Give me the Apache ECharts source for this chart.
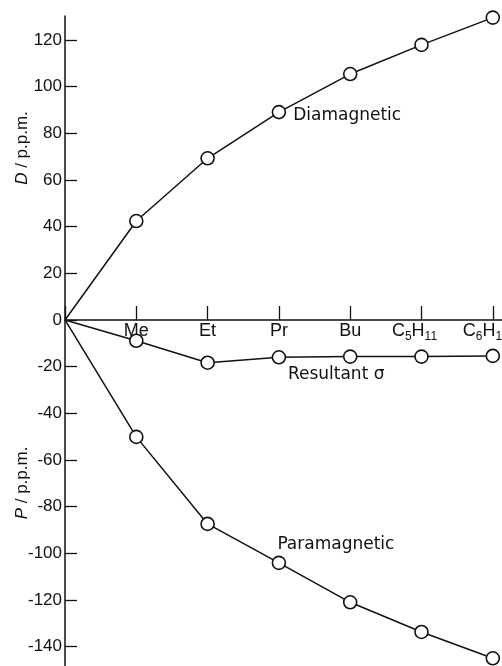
<!DOCTYPE html>
<html>
<head>
<meta charset="utf-8">
<script src="https://cdn.jsdelivr.net/npm/echarts@6/dist/echarts.min.js"></script>
<style>
  html, body { margin: 0; padding: 0; background: #fff; }
  #chart { width: 502px; height: 666px; }
</style>
</head>
<body>
<div id="chart"></div>
<script>
// x positions 0..6, 0 = origin, then the alkyl groups
const categories = ['Me', 'Et', 'Pr', 'Bu', 'C5H11', 'C6H13'];
const diamagnetic = [0, 42.4, 69.3, 89.1, 105.4, 117.9, 129.6];
const resultant = [0, -8.9, -18.3, -16, -15.7, -15.7, -15.4];
const paramagnetic = [0, -50.1, -87.4, -104.1, -121, -133.7, -145];
const yTicks = [-140, -120, -100, -80, -60, -40, -20, 0, 20, 40, 60, 80, 100, 120];
const yAxisExtent = [-149, 130.5];

const ink = '#111';
const tickFont = "'Liberation Sans Narrow', 'Liberation Sans', sans-serif";

const toPoints = arr => arr.map((v, i) => [i, v]);

// tick labels with subscripts, e.g. C5H11 (a bit left of the tick, like the original)
const catLabel = name => {
    const m = name.match(/^C(\d)H(\d+)$/);
    if (!m) return '{n|' + name + '}';
    return '{n|C}{s|' + m[1] + '}{n|H}{s|' + m[2] + '}{pad|}';
};

const lineSeries = (name, values, labelIdx, label) => {
    const data = toPoints(values).map((p, i) => {
        if (i === 0) return { value: p, symbol: 'none' };
        if (i !== labelIdx) return p;
        return { value: p, label: Object.assign({ show: true, formatter: name }, label) };
    });
    return {
        name: name,
        type: 'line',
        data: data,
        symbol: 'circle',
        symbolSize: 13,
        showSymbol: true,
        clip: false,
        itemStyle: { color: '#fff', borderColor: ink, borderWidth: 1.6 },
        lineStyle: { color: ink, width: 1.5 },
        label: {
            show: false,
            color: ink,
            fontFamily: 'DejaVu Sans',
            fontSize: 17
        },
        emphasis: { disabled: true },
        z: 3
    };
};

const chart = echarts.init(document.getElementById('chart'));

// grid is taller than the canvas so that -160 / 140 ticks fall off-screen
const gridTop = -6.67, gridBottom = -27.3;
const zeroOffset = -373.3; // move the x axis up from the grid bottom to y = 0

const option = {
    backgroundColor: '#fff',
    animation: false,
    grid: {
        left: 65, right: -62.1, top: gridTop, bottom: gridBottom,
        outerBoundsMode: 'none',
        containLabel: false
    },
    xAxis: {
        type: 'value',
        min: 0,
        max: 7,
        interval: 1,
        offset: zeroOffset,
        axisLine: { onZero: false, lineStyle: { color: ink, width: 1.5 } },
        axisTick: { inside: true, length: 14, lineStyle: { color: ink, width: 1.3 } },
        splitLine: { show: false },
        axisLabel: {
            margin: 2,
            color: ink,
            formatter: v => (v >= 1 && v <= categories.length) ? catLabel(categories[v - 1]) : '',
            rich: {
                n: { fontFamily: tickFont, fontSize: 18, color: ink, verticalAlign: 'top', lineHeight: 18 },
                s: { fontFamily: tickFont, fontSize: 12, color: ink, verticalAlign: 'top', padding: [9, 0, 0, 0], lineHeight: 12 },
                pad: { width: 14 }
            }
        }
    },
    yAxis: {
        type: 'value',
        min: -160,
        max: 140,
        interval: 20,
        axisLine: { show: false },
        axisTick: { inside: true, length: 12, lineStyle: { color: ink, width: 1.3 } },
        splitLine: { show: false },
        axisLabel: {
            margin: 3,
            color: ink,
            fontFamily: tickFont,
            fontSize: 17,
            formatter: v => yTicks.includes(v) ? String(v) : ''
        }
    },
    graphic: [
        {
            type: 'text',
            x: 22, y: 148,
            rotation: Math.PI / 2,
            style: {
                text: '{i|D} / p.p.m.',
                align: 'center', verticalAlign: 'middle',
                fill: ink, fontFamily: 'Liberation Sans', fontSize: 17,
                rich: { i: { fontStyle: 'italic', fontFamily: 'Liberation Sans', fontSize: 17, fill: ink } }
            }
        },
        {
            type: 'text',
            x: 22, y: 483,
            rotation: Math.PI / 2,
            style: {
                text: '{i|P} / p.p.m.',
                align: 'center', verticalAlign: 'middle',
                fill: ink, fontFamily: 'Liberation Sans', fontSize: 17,
                rich: { i: { fontStyle: 'italic', fontFamily: 'Liberation Sans', fontSize: 17, fill: ink } }
            }
        }
    ],
    series: [
        {
            name: 'axis',
            type: 'line',
            data: [[0, yAxisExtent[0]], [0, yAxisExtent[1]]],
            showSymbol: false,
            silent: true,
            clip: false,
            lineStyle: { color: ink, width: 1.5 },
            z: 1
        },
        lineSeries('Diamagnetic', diamagnetic, 3, { position: 'right', distance: 7, offset: [0, 3] }),
        lineSeries('Resultant σ', resultant, 4, { position: 'bottom', distance: 2, offset: [-14, 0] }),
        lineSeries('Paramagnetic', paramagnetic, 3, { position: 'top', distance: 5, offset: [57, 3] })
    ]
};

chart.setOption(option);
</script>
</body>
</html>
